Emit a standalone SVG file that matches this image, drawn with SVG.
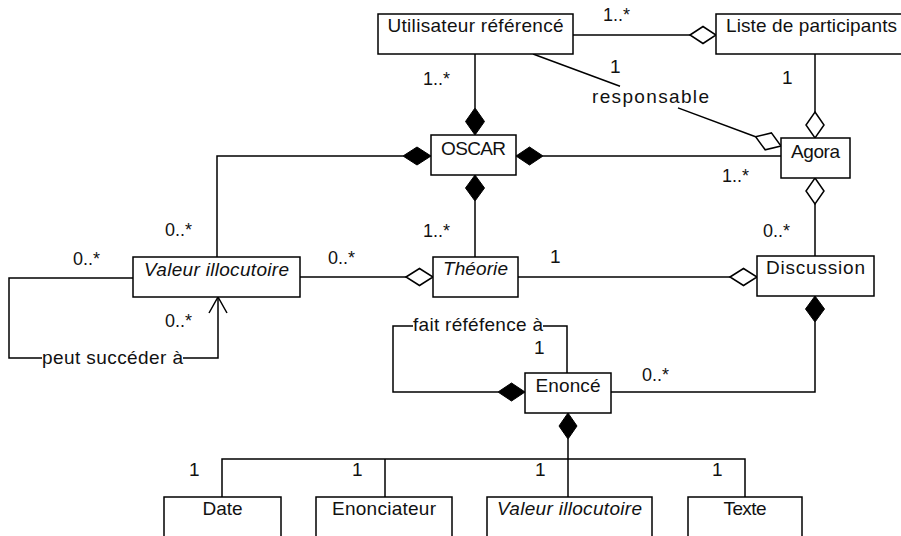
<svg xmlns="http://www.w3.org/2000/svg" width="901" height="536" viewBox="0 0 901 536">
<style>
rect.n{fill:#fff;stroke:#000;stroke-width:1.5}
text{font-family:"Liberation Sans",Arial,sans-serif;font-size:19px;fill:#111}
text.c{text-anchor:middle}
text.i{font-style:italic}
.l{fill:none;stroke:#000;stroke-width:1.5}
.f{fill:#000;stroke:#000;stroke-width:1}
.h{fill:#fff;stroke:#000;stroke-width:1.5}
</style>
<rect width="901" height="536" fill="#fff"/>
<g id="connectors">
  <line class="l" x1="573" y1="35" x2="690" y2="35"/>
  <polygon class="h" points="690,35 703,26.5 716,35 703,43.5"/>
  <line class="l" x1="475" y1="54" x2="475" y2="108"/>
  <polygon class="f" points="475,108 484.5,121.5 475,135 465.5,121.5"/>
  <line class="l" x1="533" y1="54" x2="620" y2="86.3"/>
  <line class="l" x1="678" y1="107.9" x2="755.6" y2="136.7"/>
  <polygon class="h" points="755.6,136.7 771.4,132.9 781,146 765.2,149.8"/>
  <line class="l" x1="815" y1="54" x2="815" y2="112"/>
  <polygon class="h" points="815,112 824,125 815,138 806,125"/>
  <polygon class="f" points="516,156 529.5,147 543,156 529.5,165"/>
  <line class="l" x1="543" y1="156" x2="781" y2="156"/>
  <polygon class="f" points="431,156 417,147 403,156 417,165"/>
  <polyline class="l" points="403,156 217,156 217,257"/>
  <polygon class="f" points="475,175 484.5,188 475,201 465.5,188"/>
  <line class="l" x1="475" y1="201" x2="475" y2="257"/>
  <line class="l" x1="300" y1="277" x2="406" y2="277"/>
  <polygon class="h" points="406,277 419.5,268.5 433,277 419.5,285.5"/>
  <line class="l" x1="518" y1="277" x2="730" y2="277"/>
  <polygon class="h" points="730,277 743.5,268.5 757,277 743.5,285.5"/>
  <polygon class="h" points="815,178 824,191 815,204 806,191"/>
  <line class="l" x1="815" y1="204" x2="815" y2="256"/>
  <polygon class="f" points="815,296 824.5,309 815,322 805.5,309"/>
  <polyline class="l" points="815,322 815,392 611,392"/>
  <polygon class="f" points="525,392 511.5,383 498,392 511.5,401"/>
  <polyline class="l" points="498,392 393,392 393,326 413,326"/>
  <polyline class="l" points="543,326 567,326 567,373"/>
  <polyline class="l" points="133,278 9,278 9,358 42,358"/>
  <polyline class="l" points="183,358 218,358 218,297"/>
  <polyline class="l" points="209,313 218,297 227,313"/>
  <polygon class="f" points="568,413 577,426 568,439 559,426"/>
  <line class="l" x1="568" y1="439" x2="568" y2="497" stroke-width="2"/>
  <polyline class="l" points="222,497 222,459 745,459 745,497"/>
  <line class="l" x1="385" y1="459" x2="385" y2="497"/>
  <text x="603" y="21" textLength="27" lengthAdjust="spacingAndGlyphs">1..*</text>
  <text x="423" y="85" textLength="27" lengthAdjust="spacingAndGlyphs">1..*</text>
  <text x="610" y="73">1</text>
  <text x="592" y="103" textLength="117" lengthAdjust="spacing">responsable</text>
  <text x="782" y="84">1</text>
  <text x="722" y="182" textLength="27" lengthAdjust="spacingAndGlyphs">1..*</text>
  <text x="165" y="236" textLength="27" lengthAdjust="spacingAndGlyphs">0..*</text>
  <text x="423" y="237" textLength="27" lengthAdjust="spacingAndGlyphs">1..*</text>
  <text x="763" y="237" textLength="27" lengthAdjust="spacingAndGlyphs">0..*</text>
  <text x="73" y="265" textLength="27" lengthAdjust="spacingAndGlyphs">0..*</text>
  <text x="328" y="264" textLength="27" lengthAdjust="spacingAndGlyphs">0..*</text>
  <text x="550" y="263">1</text>
  <text x="165" y="327" textLength="27" lengthAdjust="spacingAndGlyphs">0..*</text>
  <text x="413" y="331" textLength="130" lengthAdjust="spacing">fait réféfence à</text>
  <text x="534" y="354">1</text>
  <text x="642" y="381" textLength="27" lengthAdjust="spacingAndGlyphs">0..*</text>
  <text x="42" y="364" textLength="141" lengthAdjust="spacing">peut succéder à</text>
  <text x="189" y="476">1</text>
  <text x="352" y="476">1</text>
  <text x="535" y="476">1</text>
  <text x="712" y="476">1</text>
</g>
<g id="utilisateur"><rect class="n" x="378" y="14" width="195" height="40"/><text class="c" x="475.5" y="32" textLength="176" lengthAdjust="spacing">Utilisateur référencé</text></g>
<g id="liste"><rect class="n" x="716" y="14" width="200" height="40"/><text x="726" y="32" textLength="171" lengthAdjust="spacing">Liste de participants</text></g>
<g id="oscar"><rect class="n" x="431" y="135" width="85" height="40"/><text class="c" x="473.5" y="155" textLength="65" lengthAdjust="spacing">OSCAR</text></g>
<g id="agora"><rect class="n" x="781" y="138" width="69" height="40"/><text class="c" x="815.5" y="158" textLength="49" lengthAdjust="spacing">Agora</text></g>
<g id="valeur1"><rect class="n" x="133" y="257" width="167" height="40"/><text class="c i" x="216.5" y="276" textLength="145" lengthAdjust="spacing">Valeur illocutoire</text></g>
<g id="theorie"><rect class="n" x="433" y="257" width="85" height="40"/><text class="c i" x="475.5" y="275" textLength="65" lengthAdjust="spacing">Théorie</text></g>
<g id="discussion"><rect class="n" x="757" y="256" width="117" height="40"/><text class="c" x="815.5" y="274" textLength="99" lengthAdjust="spacing">Discussion</text></g>
<g id="enonce"><rect class="n" x="525" y="373" width="86" height="40"/><text class="c" x="568" y="392" textLength="65" lengthAdjust="spacing">Enoncé</text></g>
<g id="date"><rect class="n" x="164" y="497" width="117" height="50"/><text class="c" x="222.5" y="515" textLength="40" lengthAdjust="spacing">Date</text></g>
<g id="enonciateur"><rect class="n" x="316" y="497" width="136" height="50"/><text class="c" x="384" y="515" textLength="104" lengthAdjust="spacing">Enonciateur</text></g>
<g id="valeur2"><rect class="n" x="487" y="497" width="165" height="50"/><text class="c i" x="569.5" y="515" textLength="145" lengthAdjust="spacing">Valeur illocutoire</text></g>
<g id="texte"><rect class="n" x="688" y="497" width="114" height="50"/><text class="c" x="745" y="515" textLength="43" lengthAdjust="spacing">Texte</text></g>
</svg>
